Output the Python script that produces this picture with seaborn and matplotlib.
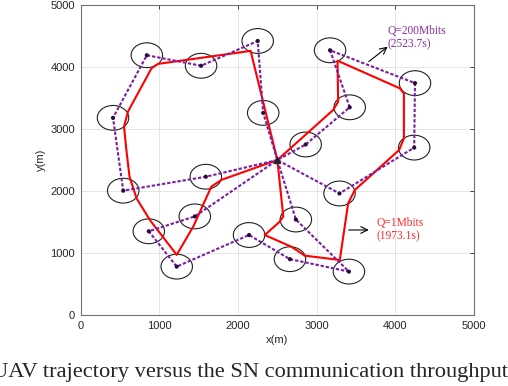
import numpy as np
import pandas as pd
import seaborn as sns
import matplotlib.pyplot as plt
from matplotlib.patches import Ellipse

# SN (ground node) positions in metres
sn_x = [840, 1530, 2250, 410, 2320, 3170, 4250, 3420, 2860, 4240,
        540, 1590, 1450, 865, 1220, 2140, 3290, 2735, 2660, 3410]
sn_y = [4190, 4020, 4420, 3180, 3260, 4270, 3740, 3350, 2750, 2700,
        2005, 2230, 1590, 1350, 780, 1290, 1960, 1540, 900, 700]
sn_radius = 200
uav_start = (2500, 2500)

# visiting order of the Q=200Mbits trajectory (-1 = start point)
order_200 = [-1, 11, 10, 3, 0, 1, 2, 4, -1,
             8, 7, 5, 6, 9, 16, -1,
             17, 19, 18, 15, 14, 13, 12, -1]

# Q=1Mbits trajectory waypoints
traj1_x = [2500, 2160, 980, 900, 600, 550, 580, 620, 710, 880, 1220, 1430, 1660, 1790, 2500,
           3210, 3273, 3265, 4058, 4109, 4109, 4049, 3485, 3400, 3294, 2849, 2680, 2340, 2530, 2575, 2500]
traj1_y = [2500, 4260, 4050, 3980, 3280, 3040, 2660, 2230, 1880, 1530, 970, 1425, 2070, 2180, 2500,
           3307, 3441, 4102, 3656, 3575, 2850, 2662, 2016, 1801, 887, 957, 1100, 1290, 1505, 1590, 2500]

sns.set_theme(style="whitegrid")
plt.rcParams['font.family'] = ['Liberation Sans', 'DejaVu Sans']

px = [uav_start[0] if i < 0 else sn_x[i] for i in order_200]
py = [uav_start[1] if i < 0 else sn_y[i] for i in order_200]
df200 = pd.DataFrame({'x': px, 'y': py, 'step': range(len(px))})
df1 = pd.DataFrame({'x': traj1_x, 'y': traj1_y, 'step': range(len(traj1_x))})
df_sn = pd.DataFrame({'x': sn_x, 'y': sn_y})

purple = '#7A1FA2'
fig = plt.figure(figsize=(5.08, 3.86), dpi=100)
ax = fig.add_axes([0.159, 0.184, 0.774, 0.803])

sns.lineplot(data=df1, x='x', y='y', sort=False, estimator=None, color='#FF0000',
             lw=1.5, ax=ax, zorder=3)
sns.lineplot(data=df200, x='x', y='y', sort=False, estimator=None, color=purple,
             lw=1.5, ls=(0, (1.6, 0.9)), ax=ax, zorder=4)
sns.scatterplot(data=df_sn, x='x', y='y', color='#2A0A3A', s=9, edgecolor='none', ax=ax, zorder=5)
ax.plot(*uav_start, marker='^', color='#222222', ms=5, zorder=6)

for x, y in zip(sn_x, sn_y):
    ax.add_patch(Ellipse((x, y), 2 * sn_radius, 2 * sn_radius, fill=False,
                         ec='#222222', lw=0.8, zorder=2))

ax.annotate('', xy=(3930, 4355), xytext=(3635, 4059),
            arrowprops=dict(arrowstyle='->', color='black', lw=0.8))
ax.text(3905, 4470, 'Q=200Mbits\n(2523.7s)', color='#8B2FA0', fontsize=8.3,
        family='Liberation Serif', va='center', ha='left', linespacing=1.1)
ax.annotate('', xy=(3697, 1371), xytext=(3371, 1371),
            arrowprops=dict(arrowstyle='->', color='black', lw=0.8))
ax.text(3755, 1380, 'Q=1Mbits\n(1973.1s)', color='#FF2828', fontsize=8.3,
        family='Liberation Serif', va='center', ha='left', linespacing=1.1)

ax.set_xlim(0, 5000)
ax.set_ylim(0, 5000)
ax.set_xticks(range(0, 5001, 1000))
ax.set_yticks(range(0, 5001, 1000))
ax.set_xlabel('x(m)', fontsize=8, color='#262626', labelpad=3)
ax.set_ylabel('y(m)', fontsize=8, color='#262626', labelpad=3)
ax.tick_params(direction='in', length=3, width=0.6, labelsize=8, colors='#262626',
               top=True, right=True, pad=4)
ax.grid(True, color='#E0E0E0', lw=0.6)
for s in ax.spines.values():
    s.set_color('#707070')
    s.set_linewidth(0.8)
ax.set_facecolor('white')

fig.text(0.492, 0.036, 'UAV trajectory versus the SN communication throughput',
         fontsize=16.1, family='Liberation Serif', ha='center', va='center')

fig.savefig('out.png', dpi=100)
